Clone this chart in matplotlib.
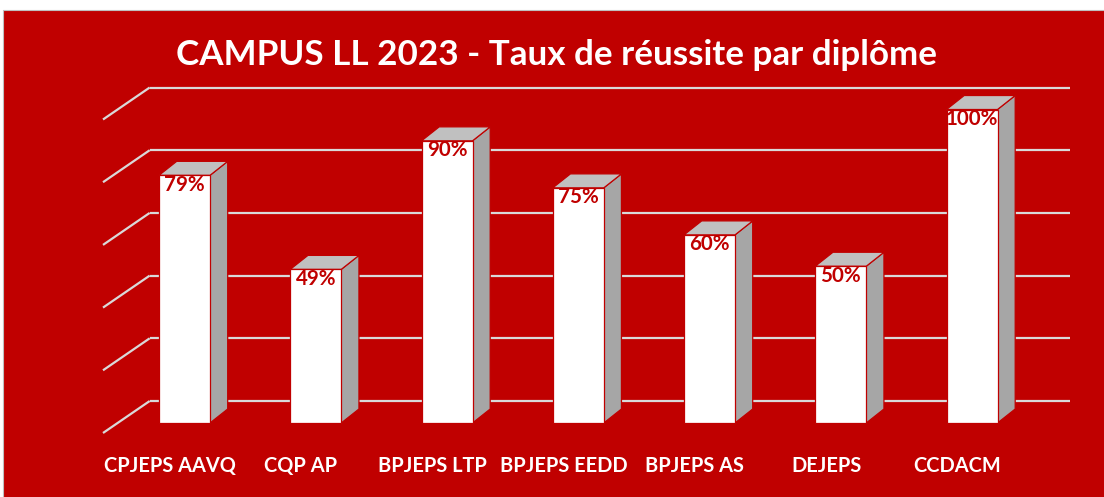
import matplotlib
matplotlib.use("Agg")
import matplotlib.pyplot as plt
from matplotlib.patches import Polygon, Rectangle

categories = ["CPJEPS AAVQ", "CQP AP", "BPJEPS LTP", "BPJEPS EEDD", "BPJEPS AS", "DEJEPS", "CCDACM"]
values = [79, 49, 90, 75, 60, 50, 100]
labels = ["79%", "49%", "90%", "75%", "60%", "50%", "100%"]
grid_values = [0, 20, 40, 60, 80, 100]
title = "CAMPUS LL 2023 - Taux de réussite par diplôme"

RED = "#C00000"
W, H = 1104, 497
fig = plt.figure(figsize=(W / 100, H / 100), dpi=100)
fig.patch.set_facecolor("white")

ax = fig.add_axes([0, 0, 1, 1])
ax.set_facecolor("none")
px_cat = 131.25
px_pct = 3.135
x0_px, y0_px = 184.5, 423
ax.set_xlim(-x0_px / px_cat, (W - x0_px) / px_cat)
ax.set_ylim(-(H - y0_px) / px_pct, y0_px / px_pct)
ax.axis("off")

# background red panel
ax.add_patch(Rectangle((3 / W, -0.01), 1.01 - 3 / W, 1.01 - 10 / H + 0.0, transform=fig.transFigure,
                       facecolor=RED, edgecolor="#BFBFBF", linewidth=0.8, zorder=0))

# depth offsets (data units)
bar_w = 51 / px_cat
bdx, bdy = 17.7 / px_cat, 14 / px_pct
wall_dx, wall_dy = 32 / px_cat, 22 / px_pct
front_dx, front_dy = -14.7 / px_cat, -10 / px_pct
x_left_front = (103 - x0_px) / px_cat
x_right = (1070 - x0_px) / px_cat

grid_col = "#D9D9D9"
for v in grid_values:
    ax.plot([x_left_front, x_left_front + (wall_dx - front_dx)],
            [v + front_dy, v + wall_dy], color=grid_col, lw=1.6, zorder=1,
            solid_capstyle="butt")
    ax.plot([x_left_front + (wall_dx - front_dx), x_right], [v + wall_dy, v + wall_dy],
            color=grid_col, lw=1.6, zorder=1, solid_capstyle="butt")

for i, (v, lab) in enumerate(zip(values, labels)):
    xl, xr = i - bar_w / 2, i + bar_w / 2
    # side face
    ax.add_patch(Polygon([(xr, 0), (xr + bdx, bdy), (xr + bdx, v + bdy), (xr, v)],
                         closed=True, facecolor="#A6A6A6", edgecolor=RED, lw=0.9, zorder=3))
    # top face
    ax.add_patch(Polygon([(xl, v), (xr, v), (xr + bdx, v + bdy), (xl + bdx, v + bdy)],
                         closed=True, facecolor="#C0C0C0", edgecolor=RED, lw=0.9, zorder=3))
    # front face
    ax.add_patch(Rectangle((xl, 0), bar_w, v, facecolor="white", edgecolor=RED, lw=0.9, zorder=4))
    ax.text(i, v + 0.2, lab, ha="center", va="top", color=RED, fontsize=14.8,
            fontweight="bold", family="Lato", zorder=5)
    ax.text(i + front_dx, -13.8, categories[i], ha="center", va="center", color="white",
            fontsize=14.4, fontweight="bold", family="Lato", zorder=5)

ax.text(0.5 + 5 / W, 1 - 55 / H, title, ha="center", va="center", color="white",
        fontsize=25.2, fontweight="bold", family="Lato", transform=fig.transFigure, zorder=5)

fig.savefig("out.png", dpi=100, facecolor=fig.get_facecolor())
